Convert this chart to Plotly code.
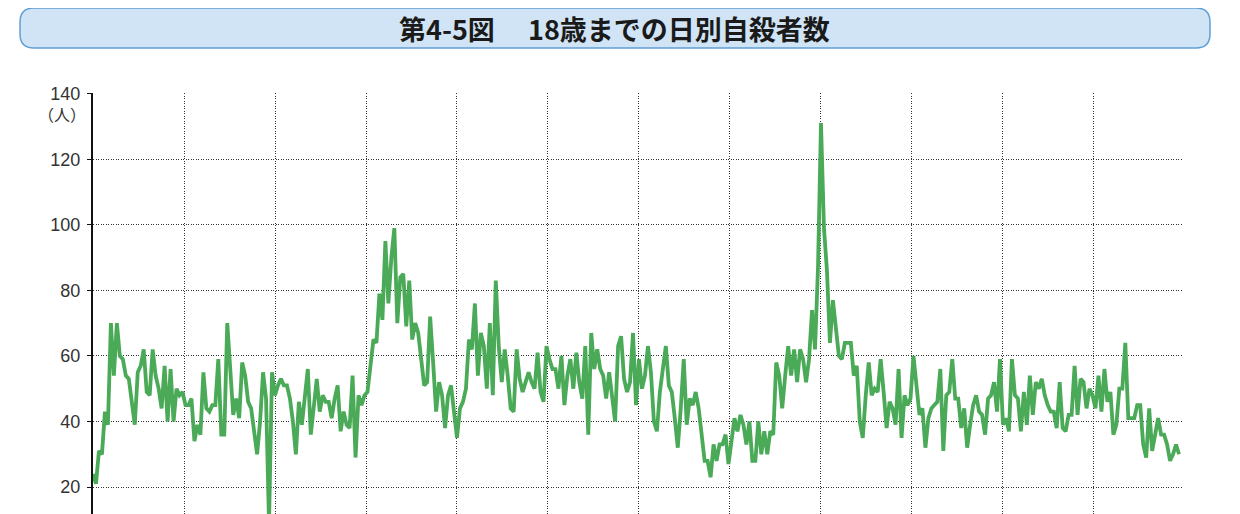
import plotly.graph_objects as go

# Daily counts (persons), month by month
jan = [24, 21, 31, 30, 43, 39, 70, 54, 70, 60, 59, 54, 53, 46, 39, 55, 57, 62, 49, 48,
       62, 54, 50, 44, 57, 40, 56, 40, 50, 48, 49]
feb = [45, 45, 47, 34, 39, 36, 55, 44, 43, 45, 45, 59, 36, 36, 70, 57, 42, 47, 41, 58,
       54, 46, 44, 37, 30, 40, 55, 47]
mar = [9, 55, 48, 51, 53, 51, 51, 47, 40, 30, 46, 39, 48, 56, 36, 44, 53, 43, 48, 46,
       46, 41, 47, 51, 37, 43, 39, 38, 54, 29, 48]
apr = [45, 48, 49, 57, 65, 64, 79, 71, 95, 76, 90, 99, 70, 84, 85, 69, 83, 65, 70, 67,
       59, 51, 52, 72, 58, 43, 52, 48, 38, 48]
may = [51, 43, 35, 44, 46, 50, 65, 62, 76, 54, 67, 63, 50, 70, 48, 83, 63, 52, 62, 54,
       44, 43, 62, 53, 49, 52, 55, 52, 50, 61, 49]
jun = [46, 63, 59, 56, 56, 50, 60, 45, 54, 59, 50, 61, 52, 47, 63, 36, 67, 56, 62, 56,
       54, 47, 55, 48, 40, 63, 66, 53, 49, 52]
jul = [67, 45, 59, 50, 54, 63, 55, 40, 37, 49, 56, 63, 51, 49, 41, 32, 44, 59, 39, 47,
       45, 49, 44, 37, 28, 28, 23, 33, 28, 33, 33]
aug = [36, 27, 34, 41, 37, 42, 39, 33, 40, 28, 28, 40, 30, 37, 30, 37, 36, 58, 54, 44,
       54, 63, 54, 62, 52, 62, 59, 52, 59, 74, 62]
sep = [87, 131, 99, 86, 64, 77, 68, 60, 59, 64, 64, 64, 54, 57, 40, 35, 48, 58, 48, 50,
       49, 59, 49, 38, 46, 44, 39, 56, 35, 48]
oct_ = [45, 47, 60, 50, 42, 44, 32, 41, 44, 45, 46, 56, 31, 48, 49, 59, 47, 47, 38, 44,
        32, 39, 45, 48, 43, 42, 36, 47, 48, 52, 43]
nov = [59, 39, 41, 37, 59, 48, 47, 37, 49, 39, 54, 42, 52, 50, 53, 48, 45, 43, 43, 38,
       52, 38, 37, 42, 42, 57, 42, 53, 52, 44]
dec = [50, 48, 44, 54, 43, 56, 46, 49, 36, 39, 50, 50, 64, 41, 41, 41, 45, 45, 33, 29,
       44, 31, 36, 41, 36, 36, 33, 28, 30, 33, 30]

y_ticks = [20, 40, 60, 80, 100, 120, 140]
y_unit = "（人）"
title_text = "第4-5図　 18歳までの日別自殺者数"

values = jan + feb + mar + apr + may + jun + jul + aug + sep + oct_ + nov + dec
days = list(range(len(values)))
n_days = 365
x_grid = [i * 30.5 for i in range(12)] + [n_days]

# page body has an 8px margin; figure sized to fit the 1240x514 window
OFF = 8
W, H = 1240 - OFF, 514 - OFF
L, R, T, B = 93 - OFF, W - (1182 - OFF), 93 - OFF, 0
pw, ph = W - L - R, H - T - B

fig = go.Figure()
fig.add_trace(go.Scatter(
    x=days, y=values, mode="lines",
    line=dict(color="#4aaa58", width=3.8),
    hoverinfo="skip", showlegend=False,
))

fig.update_layout(
    width=W, height=H,
    margin=dict(l=L, r=R, t=T, b=B),
    paper_bgcolor="white", plot_bgcolor="white",
    showlegend=False,
)
fig.update_xaxes(
    range=[0, n_days], tickvals=x_grid, showticklabels=False,
    showgrid=True, gridcolor="#333", griddash="1px,1.5px", gridwidth=1,
    showline=False, zeroline=False, ticks="",
)
fig.update_yaxes(
    range=[11.78, 140.2], tickvals=y_ticks, ticktext=[str(v) for v in y_ticks],
    showgrid=True, gridcolor="#333", griddash="1px,1.5px", gridwidth=1,
    showline=True, linecolor="#111", linewidth=2, zeroline=False,
    ticks="outside", ticklen=4, tickcolor="#111", ticklabelstandoff=3,
    tickfont=dict(family="Liberation Sans", size=18, color="#333"),
)

def px2paper(sx, sy):
    return (sx - OFF - L) / pw, (H - (sy - OFF)) / ph

x0, y1 = px2paper(20, 8)
x1, y0 = px2paper(1210, 48)
rx, ry = 14 / pw, 14 / ph
path = (f"M {x0+rx},{y1} L {x1-rx},{y1} Q {x1},{y1} {x1},{y1-ry} "
        f"L {x1},{y0+ry} Q {x1},{y0} {x1-rx},{y0} L {x0+rx},{y0} "
        f"Q {x0},{y0} {x0},{y0+ry} L {x0},{y1-ry} Q {x0},{y1} {x0+rx},{y1} Z")
fig.add_shape(type="path", path=path, xref="paper", yref="paper",
              fillcolor="#d0e4f5", line=dict(color="#5f9fd6", width=1.5), layer="below")

tx, ty = px2paper(614, 29)
fig.add_annotation(x=tx, y=ty, xref="paper", yref="paper", text=f"<b>{title_text}</b>",
                   showarrow=False, xanchor="center", yanchor="middle",
                   font=dict(family="Noto Sans CJK JP", size=27, color="#1a1a1a"))

ux, uy = px2paper(88, 114)
fig.add_annotation(x=ux, y=uy, xref="paper", yref="paper", text=y_unit,
                   showarrow=False, xanchor="right", yanchor="middle",
                   font=dict(family="Noto Sans CJK JP", size=16, color="#333"))

fig.write_html("out.html")
